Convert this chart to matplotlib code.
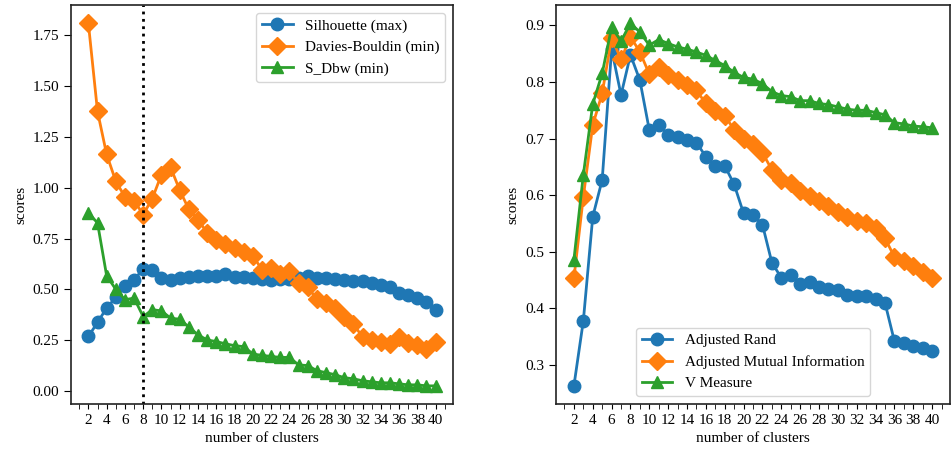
import numpy as np
import matplotlib
matplotlib.use("Agg")
import matplotlib.pyplot as plt
from matplotlib.ticker import MultipleLocator

plt.rcParams["font.family"] = ["Liberation Serif", "DejaVu Serif"]
plt.rcParams["font.size"] = 11

# number of clusters
clusters = list(range(2, 41))

# internal indices (left panel)
silhouette = [0.268, 0.337, 0.408, 0.460, 0.518, 0.547, 0.600, 0.597, 0.556, 0.547,
              0.558, 0.562, 0.564, 0.565, 0.567, 0.575, 0.560, 0.562, 0.555, 0.552,
              0.547, 0.552, 0.550, 0.555, 0.565, 0.558, 0.554, 0.550, 0.547, 0.542,
              0.539, 0.532, 0.523, 0.510, 0.480, 0.470, 0.457, 0.440, 0.396]
davies_bouldin = [1.810, 1.376, 1.164, 1.032, 0.955, 0.937, 0.868, 0.947, 1.065, 1.100,
                  0.988, 0.893, 0.843, 0.778, 0.745, 0.725, 0.705, 0.685, 0.665, 0.597,
                  0.605, 0.577, 0.588, 0.531, 0.511, 0.452, 0.432, 0.408, 0.366, 0.330,
                  0.265, 0.251, 0.243, 0.232, 0.265, 0.235, 0.227, 0.206, 0.243]
s_dbw = [0.876, 0.827, 0.567, 0.500, 0.449, 0.457, 0.366, 0.400, 0.394, 0.358,
         0.353, 0.314, 0.276, 0.251, 0.243, 0.232, 0.223, 0.218, 0.182, 0.175,
         0.170, 0.165, 0.165, 0.128, 0.125, 0.100, 0.090, 0.080, 0.065, 0.060,
         0.050, 0.045, 0.040, 0.040, 0.035, 0.030, 0.030, 0.025, 0.025]

# external indices (right panel)
adjusted_rand = [0.263, 0.378, 0.562, 0.627, 0.858, 0.777, 0.848, 0.803, 0.715, 0.724,
                 0.707, 0.702, 0.697, 0.693, 0.668, 0.652, 0.652, 0.619, 0.568, 0.565,
                 0.548, 0.481, 0.454, 0.459, 0.443, 0.446, 0.438, 0.435, 0.432, 0.423,
                 0.421, 0.421, 0.416, 0.410, 0.342, 0.339, 0.333, 0.330, 0.324]
adjusted_mi = [0.453, 0.597, 0.724, 0.780, 0.878, 0.840, 0.880, 0.853, 0.814, 0.826,
               0.813, 0.804, 0.795, 0.785, 0.762, 0.749, 0.740, 0.716, 0.699, 0.690,
               0.675, 0.645, 0.626, 0.622, 0.607, 0.598, 0.589, 0.580, 0.571, 0.562,
               0.555, 0.551, 0.542, 0.524, 0.491, 0.483, 0.474, 0.464, 0.453]
v_measure = [0.486, 0.636, 0.761, 0.815, 0.897, 0.872, 0.904, 0.888, 0.865, 0.875,
             0.868, 0.862, 0.858, 0.853, 0.847, 0.838, 0.829, 0.817, 0.808, 0.805,
             0.797, 0.783, 0.776, 0.774, 0.767, 0.767, 0.762, 0.760, 0.756, 0.752,
             0.750, 0.750, 0.746, 0.742, 0.728, 0.726, 0.722, 0.721, 0.719]

best_k = 8


def style_axis(ax):
    ax.xaxis.set_major_locator(MultipleLocator(2))
    ax.xaxis.set_minor_locator(MultipleLocator(1))
    ax.tick_params(axis="x", which="both", length=3.5)
    ax.tick_params(axis="y", length=5)
    ax.set_xlabel("number of clusters")
    ax.set_ylabel("scores")
    for sp in ax.spines.values():
        sp.set_linewidth(1.2)
        sp.set_color("#222222")


fig = plt.figure(figsize=(9.52, 4.59), dpi=100)
ax1 = fig.add_axes([71 / 952, 55 / 459, 382 / 952, 399 / 459])
ax2 = fig.add_axes([556 / 952, 55 / 459, 394 / 952, 399 / 459])

ax1.plot(clusters, silhouette, marker="o", markersize=9, linewidth=2, label="Silhouette (max)")
ax1.plot(clusters, davies_bouldin, marker="D", markersize=9, linewidth=2, label="Davies-Bouldin (min)")
ax1.plot(clusters, s_dbw, marker="^", markersize=9, linewidth=2, label="S_Dbw (min)")
ax1.axvline(best_k, color="black", linestyle=":", linewidth=2)
ax1.legend(loc="upper right")
style_axis(ax1)

ax2.plot(clusters, adjusted_rand, marker="o", markersize=9, linewidth=2, label="Adjusted Rand")
ax2.plot(clusters, adjusted_mi, marker="D", markersize=9, linewidth=2, label="Adjusted Mutual Information")
ax2.plot(clusters, v_measure, marker="^", markersize=9, linewidth=2, label="V Measure")
ax2.legend(loc="lower center")
style_axis(ax2)

fig.savefig("out.png", dpi=100)
